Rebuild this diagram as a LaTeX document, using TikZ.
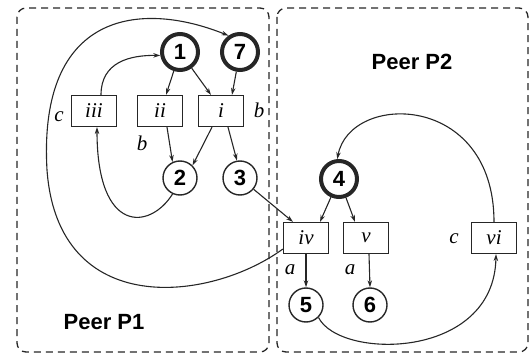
\documentclass[tikz,border=0pt]{standalone}
\usepackage{fontspec}
\setmainfont{Liberation Serif}
\setsansfont{Liberation Sans}
\usetikzlibrary{arrows.meta}

\begin{document}
\begin{tikzpicture}[x=1pt,y=-1pt,
  ink/.style={draw=black!85},
  region/.style={ink, line width=1.3pt, dash pattern=on 7pt off 5pt, rounded corners=9pt},
  state/.style={circle, ink, line width=1.4pt, minimum size=34pt, inner sep=0pt,
    font=\sffamily\bfseries\fontsize{22}{26}\selectfont},
  root/.style={state, line width=4pt, minimum size=36pt},
  opbox/.style={rectangle, ink, line width=1.2pt, minimum width=45pt, minimum height=31pt,
    inner sep=0pt, font=\itshape\fontsize{21}{25}\selectfont},
  lbl/.style={inner sep=0pt, font=\itshape\fontsize{21}{25}\selectfont},
  peerlbl/.style={inner sep=0pt, font=\sffamily\bfseries\fontsize{22}{26}\selectfont},
  link/.style={draw=black!85, line width=1.1pt, -{Stealth[length=7pt,width=4.5pt]}}]

\useasboundingbox (0,0) rectangle (530,358);

% the two peers
\draw[region] (17,8) rectangle (269,352);
\draw[region] (277,8) rectangle (528,352);
\node[peerlbl] (p2) at (412,62) {Peer P2};
\node[peerlbl] (p1) at (104,322) {Peer P1};

% peer P1
\node[root] (n1) at (180,52) {1};
\node[root] (n7) at (240,52) {7};
\node[opbox] (iii) at (94,111) {iii};
\node[opbox] (ii) at (160,111) {ii};
\node[opbox] (i) at (221,111) {i};
\node[state] (n2) at (180,178) {2};
\node[state] (n3) at (240,178) {3};
\node[lbl] (lc1) at (59,117) {c};
\node[lbl] (lb1) at (142,143) {b};
\node[lbl] (lb2) at (259,110) {b};

% peer P2
\node[root] (n4) at (339,179) {4};
\node[opbox] (iv) at (306,238) {iv};
\node[opbox] (v) at (366,238) {v};
\node[opbox] (vi) at (494,238) {vi};
\node[state] (n5) at (306,305) {5};
\node[state] (n6) at (370,305) {6};
\node[lbl] (lc2) at (454,239) {c};
\node[lbl] (la1) at (290,270) {a};
\node[lbl] (la2) at (350,270) {a};

% straight links
\draw[link] (n1) -- ([xshift=6pt]ii.north);
\draw[link] (n1) -- ([xshift=-10pt]i.north);
\draw[link] (n7) -- ([xshift=11pt]i.north);
\draw[link] ([xshift=7pt]ii.south) -- (n2.115);
\draw[link] ([xshift=-9pt]i.south) -- (n2.45);
\draw[link] ([xshift=7pt]i.south) -- (n3.100);
\draw[link] (n3) -- ([xshift=-13pt]iv.north);
\draw[link] (n4) -- ([xshift=14pt]iv.north);
\draw[link] (n4) -- ([xshift=-11pt]v.north);
\draw[link] (iv.south) -- (n5.north);
\draw[link] ([xshift=3pt]v.south) -- (n6.north);

% curved links
\draw[link] ([xshift=7pt]iii.north) .. controls (101,62) and (130,55) .. (n1.190);
\draw[link] (n2.-115) .. controls (150,230) and (97,235) .. ([xshift=3pt]iii.south);
\draw[link] ([yshift=-11pt]iv.west) .. controls (210,302) and (58,320) .. (47,170)
  .. controls (38,12) and (140,0) .. (n7.125);
\draw[link] (vi.north) .. controls (494,92) and (350,92) .. (n4.95);
\draw[link] (n5.-45) .. controls (340,360) and (494,360) .. ([xshift=2pt]vi.south);

\end{tikzpicture}
\end{document}
